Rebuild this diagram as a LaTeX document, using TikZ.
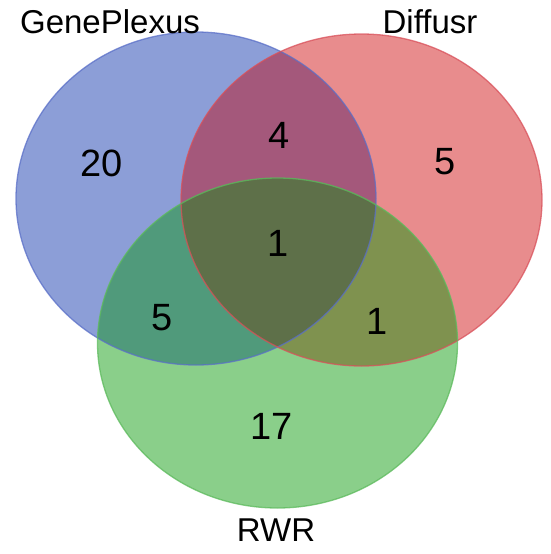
\documentclass[tikz,border=0pt]{standalone}
\usepackage{fontspec}
\setmainfont{Liberation Sans}
\definecolor{cB}{HTML}{8C9ED7}
\definecolor{cR}{HTML}{E88C8D}
\definecolor{cG}{HTML}{8ACF8A}
\definecolor{cBR}{HTML}{A4587B}
\definecolor{cBG}{HTML}{509A7B}
\definecolor{cRG}{HTML}{7F924F}
\definecolor{cBRG}{HTML}{5E7049}
\definecolor{eB}{HTML}{5A6FC8}
\definecolor{eR}{HTML}{D9505A}
\definecolor{eG}{HTML}{5CBA5C}
\tikzset{
  setlabel/.style={inner sep=0pt, font=\fontsize{33}{38}\selectfont},
  count/.style={inner sep=0pt, font=\fontsize{38}{44}\selectfont},
  rim/.style={line width=1.3pt, draw opacity=0.75}
}
\def\ellB{(196,198.5) ellipse [x radius=180pt, y radius=166.5pt]}
\def\ellR{(361.5,200) ellipse [x radius=180.5pt, y radius=166pt]}
\def\ellG{(277.5,343) ellipse [x radius=180pt, y radius=165pt]}
\begin{document}
\begin{tikzpicture}[x=1pt,y=-1pt]
\useasboundingbox (0,0) rectangle (550,554);
\fill[white] (0,0) rectangle (550,554);
% single regions
\fill[cB] \ellB;
\fill[cR] \ellR;
\fill[cG] \ellG;
% pairwise
\begin{scope}\clip \ellB; \fill[cBR] \ellR; \end{scope}
\begin{scope}\clip \ellB; \fill[cBG] \ellG; \end{scope}
\begin{scope}\clip \ellR; \fill[cRG] \ellG; \end{scope}
\begin{scope}\clip \ellB; \clip \ellR; \fill[cBRG] \ellG; \end{scope}
% outlines
\draw[rim, eB] \ellB;
\draw[rim, eR] \ellR;
\draw[rim, eG] \ellG;
% set labels
\node[setlabel] (lgp) at (110,21.5) {GenePlexus};
\node[setlabel] (ldf) at (430,21.5) {Diffusr};
\node[setlabel] (lrwr) at (276,530) {RWR};
% counts
\node[count] (nB) at (102,163) {20};
\node[count] (nBR) at (279,135) {4};
\node[count] (nR) at (445,162) {5};
\node[count] (nBRG) at (278,243) {1};
\node[count] (nBG) at (162,318) {5};
\node[count] (nRG) at (377,321) {1};
\node[count] (nG) at (272,426) {17};
\end{tikzpicture}
\end{document}
